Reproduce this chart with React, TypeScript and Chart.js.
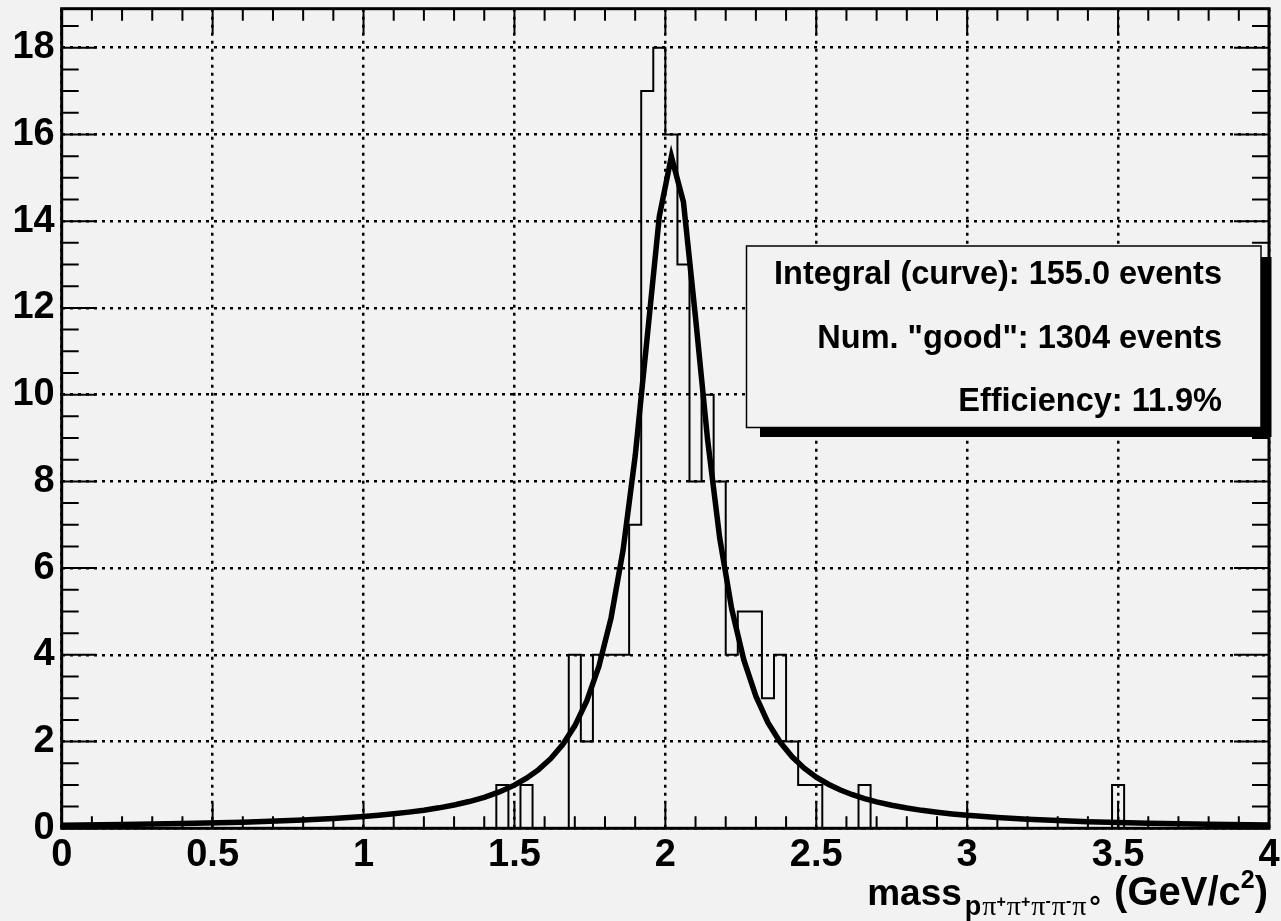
import React, { useEffect, useRef } from "react";
import { Chart, registerables } from "chart.js";

Chart.register(...registerables);

// ---------- data ----------
const xMin = 0;
const xMax = 4;
const yMin = 0;
const yMax = 18.9;
const xTickStep = 0.5;
const yTickStep = 2;
const xMinorStep = 0.1;
const yMinorStep = 0.5;

const binWidth = 0.04;
const binTotal = 100;
// lower edges of the non-empty bins and their contents
const filledBinLow = [
  1.44, 1.52, 1.68, 1.72, 1.76, 1.8, 1.84, 1.88, 1.92, 1.96, 2.0, 2.04, 2.08,
  2.12, 2.16, 2.2, 2.24, 2.28, 2.32, 2.36, 2.4, 2.44, 2.48, 2.64, 3.48,
];
const filledBinCount = [
  1, 1, 4, 2, 4, 4, 4, 7, 17, 18, 16, 13, 8, 10, 8, 4, 5, 5, 3, 4, 2, 1, 1, 1, 1,
];

// fitted curve
const fitX = [
  0, 0.2, 0.4, 0.6, 0.8, 0.9, 1.0, 1.05, 1.1, 1.15, 1.2, 1.25, 1.3, 1.35, 1.4,
  1.45, 1.5, 1.54, 1.58, 1.62, 1.66, 1.7, 1.74, 1.78, 1.82, 1.86, 1.9, 1.94,
  1.98, 2.02, 2.06, 2.1, 2.14, 2.18, 2.22, 2.26, 2.3, 2.34, 2.38, 2.42, 2.46,
  2.5, 2.54, 2.58, 2.62, 2.66, 2.7, 2.75, 2.8, 2.85, 2.9, 2.95, 3.0, 3.1, 3.2,
  3.4, 3.6, 3.8, 4.0,
];
const fitY = [
  0.07, 0.087, 0.11, 0.142, 0.192, 0.227, 0.273, 0.301, 0.334, 0.373, 0.418,
  0.472, 0.537, 0.617, 0.715, 0.838, 0.995, 1.154, 1.353, 1.605, 1.932, 2.363,
  2.942, 3.739, 4.848, 6.416, 8.581, 11.337, 14.11, 15.49, 14.44, 11.777,
  8.962, 6.7, 5.052, 3.882, 3.046, 2.438, 1.989, 1.649, 1.387, 1.181, 1.017,
  0.884, 0.775, 0.685, 0.61, 0.532, 0.467, 0.414, 0.369, 0.331, 0.299, 0.247,
  0.207, 0.152, 0.116, 0.092, 0.074,
];

const statsLines = [
  "Integral (curve): 155.0 events",
  'Num. "good": 1304 events',
  "Efficiency: 11.9%",
];

const FONT = "'Liberation Sans', Arial, Helvetica, sans-serif";
const SERIF = "'Liberation Serif', 'DejaVu Serif', serif";
const BG = "#f2f2f2";

function buildHistogram() {
  const counts = new Array(binTotal).fill(0);
  filledBinLow.forEach((low, i) => {
    counts[Math.round(low / binWidth)] = filledBinCount[i];
  });
  const pts = counts.map((c, i) => ({ x: xMin + i * binWidth, y: c }));
  pts.push({ x: xMax, y: counts[binTotal - 1] });
  return pts;
}

const backgroundPlugin = {
  id: "bg",
  beforeDraw(chart: any) {
    const { ctx, width, height } = chart;
    ctx.save();
    ctx.fillStyle = BG;
    ctx.fillRect(0, 0, width, height);
    ctx.restore();
  },
};

const framePlugin = {
  id: "frame",
  beforeDatasetsDraw(chart: any) {
    const { ctx, chartArea: a, scales } = chart;
    const xs = scales.x;
    const ys = scales.y;
    ctx.save();
    ctx.strokeStyle = "#000";
    ctx.lineWidth = 2;
    ctx.beginPath();
    const nx = Math.round((xMax - xMin) / xMinorStep);
    const perMajorX = Math.round(xTickStep / xMinorStep);
    for (let i = 0; i <= nx; i++) {
      const v = xMin + i * xMinorStep;
      const px = xs.getPixelForValue(v);
      const len = i % perMajorX === 0 ? 25 : 12;
      ctx.moveTo(px, a.bottom);
      ctx.lineTo(px, a.bottom - len);
      ctx.moveTo(px, a.top);
      ctx.lineTo(px, a.top + len);
    }
    const ny = Math.floor((yMax - yMin) / yMinorStep + 1e-9);
    const perMajorY = Math.round(yTickStep / yMinorStep);
    for (let i = 0; i <= ny; i++) {
      const v = yMin + i * yMinorStep;
      const py = ys.getPixelForValue(v);
      const len = i % perMajorY === 0 ? 35 : 17;
      ctx.moveTo(a.left, py);
      ctx.lineTo(a.left + len, py);
      ctx.moveTo(a.right, py);
      ctx.lineTo(a.right - len, py);
    }
    ctx.stroke();
    ctx.lineWidth = 3;
    ctx.strokeRect(a.left, a.top, a.right - a.left, a.bottom - a.top);
    ctx.restore();
  },
};

const overlayPlugin = {
  id: "overlay",
  afterDraw(chart: any) {
    const { ctx } = chart;
    ctx.save();
    // stats box with shadow
    ctx.fillStyle = "#000";
    ctx.fillRect(760, 257, 1271.5 - 760, 437 - 257);
    ctx.fillStyle = BG;
    ctx.fillRect(746.5, 246, 1261 - 746.5, 427.5 - 246);
    ctx.lineWidth = 1.5;
    ctx.strokeStyle = "#000";
    ctx.strokeRect(746.5, 246, 1261 - 746.5, 427.5 - 246);
    ctx.fillStyle = "#000";
    ctx.font = `bold 32.5px ${FONT}`;
    ctx.textAlign = "right";
    ctx.textBaseline = "alphabetic";
    const baselines = [283.5, 347.5, 411];
    statsLines.forEach((t, i) => ctx.fillText(t, 1222, baselines[i]));

    // axis title: mass_{p pi+ pi+ pi- pi- pi0} (GeV/c^2)
    const runs = [
      { t: "mass", f: `bold 37px ${FONT}`, b: 905, gap: 3 },
      { t: "p", f: `bold 27px ${FONT}`, b: 915, gap: 1 },
      { t: "\u03c0", f: `28px ${SERIF}`, b: 915, gap: 0 },
      { t: "+", f: `bold 16px ${FONT}`, b: 907, gap: 1 },
      { t: "\u03c0", f: `28px ${SERIF}`, b: 915, gap: 0 },
      { t: "+", f: `bold 16px ${FONT}`, b: 907, gap: 1 },
      { t: "\u03c0", f: `28px ${SERIF}`, b: 915, gap: 0 },
      { t: "-", f: `bold 16px ${FONT}`, b: 906, gap: 1 },
      { t: "\u03c0", f: `28px ${SERIF}`, b: 915, gap: 0 },
      { t: "-", f: `bold 16px ${FONT}`, b: 906, gap: 1 },
      { t: "\u03c0", f: `28px ${SERIF}`, b: 915, gap: 3 },
      { t: "\u00b0", f: `bold 29px ${FONT}`, b: 917, gap: 2 },
      { t: " (GeV/c", f: `bold 40px ${FONT}`, b: 905, gap: 0 },
      { t: "2", f: `bold 25px ${FONT}`, b: 888, gap: 0 },
      { t: ")", f: `bold 40px ${FONT}`, b: 905, gap: 0 },
    ];
    ctx.textAlign = "left";
    let total = 0;
    const widths = runs.map((r) => {
      ctx.font = r.f;
      const w = ctx.measureText(r.t).width + r.gap;
      total += w;
      return w;
    });
    let x = 1268 - total;
    runs.forEach((r, i) => {
      ctx.font = r.f;
      ctx.fillText(r.t, x, r.b);
      x += widths[i];
    });
    ctx.restore();
  },
};

export default function App() {
  const ref = useRef<HTMLCanvasElement | null>(null);

  useEffect(() => {
    document.body.style.margin = "0";
    document.body.style.background = BG;
    const canvas = ref.current;
    if (!canvas) return;

    const chart = new Chart(canvas, {
      type: "line",
      data: {
        datasets: [
          {
            label: "fit",
            data: fitX.map((x, i) => ({ x, y: fitY[i] })),
            borderColor: "#000",
            borderWidth: 5.5,
            pointRadius: 0,
            tension: 0,
            fill: false,
            order: 0,
          } as any,
          {
            label: "histogram",
            data: buildHistogram(),
            borderColor: "#000",
            borderWidth: 2,
            pointRadius: 0,
            stepped: "before",
            fill: false,
            order: 1,
          } as any,
        ],
      },
      options: {
        responsive: false,
        animation: false,
        devicePixelRatio: 1,
        layout: { padding: { top: 8.7, right: 12, left: 0, bottom: 0 } },
        plugins: {
          legend: { display: false },
          tooltip: { enabled: false },
          title: { display: false },
        },
        scales: {
          x: {
            type: "linear",
            position: "bottom",
            min: xMin,
            max: xMax,
            afterFit: (s: any) => {
              s.height = 921 - 828.3;
              s.paddingLeft = 0;
              s.paddingRight = 0;
            },
            ticks: {
              stepSize: xTickStep,
              includeBounds: false,
              padding: 4,
              color: "#000",
              font: { family: FONT, size: 38, weight: "bold" },
              callback: (v: any) => String(+Number(v).toFixed(2)),
              maxRotation: 0,
              autoSkip: false,
            },
            grid: {
              color: "#000",
              lineWidth: 2.5,
              drawTicks: false,
            },
            border: { display: false, dash: [3, 5] },
          },
          y: {
            type: "linear",
            position: "left",
            min: yMin,
            max: yMax,
            afterFit: (s: any) => {
              s.width = 61.7;
              s.paddingTop = 0;
              s.paddingBottom = 0;
            },
            ticks: {
              stepSize: yTickStep,
              includeBounds: false,
              padding: 7,
              color: "#000",
              font: { family: FONT, size: 38, weight: "bold" },
              callback: (v: any) => String(+Number(v).toFixed(2)),
              autoSkip: false,
            },
            grid: {
              color: "#000",
              lineWidth: 2.5,
              drawTicks: false,
            },
            border: { display: false, dash: [3, 5] },
          },
        },
      } as any,
      plugins: [backgroundPlugin, framePlugin, overlayPlugin],
    });

    return () => chart.destroy();
  }, []);

  return (
    <div style={{ width: 1281, height: 921, background: BG }}>
      <canvas ref={ref} width={1281} height={921} style={{ display: "block" }} />
    </div>
  );
}
